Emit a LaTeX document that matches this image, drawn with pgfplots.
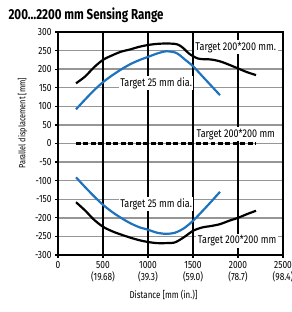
\documentclass[border=0pt]{standalone}
\usepackage{fontspec}
\setmainfont[FakeStretch=0.8]{Fira Sans}
\usepackage{pgfplots}
\pgfplotsset{compat=1.18}
\definecolor{cblue}{RGB}{30,115,190}
\definecolor{gridgray}{RGB}{150,150,150}
\begin{document}
\begin{tikzpicture}
\begin{axis}[
  scale only axis,
  width=225bp, height=223bp,
  xmin=0, xmax=2500, ymin=-300, ymax=300,
  xtick={0,500,1000,1500,2000,2500},
  xticklabels={0,{500\\(19.68)},{1000\\(39.3)},{1500\\(59.0)},{2000\\(78.7)},{2500\\(98.4)}},
  xticklabel style={align=center, font=\fontsize{10.5}{12}\selectfont},
  ytick={-300,-250,...,300},
  yticklabel style={font=\fontsize{10.5}{12}\selectfont},
  /pgf/number format/assume math mode=true,
  /pgf/number format/1000 sep={},
  axis line style={black, line width=1.6pt},
  tick style={black, line width=1.2pt},
  tick align=outside,
  major tick length=3pt,
  xtick pos=bottom, ytick pos=left,
  extra x ticks={500,1000,1500,2000},
  extra x tick labels={},
  extra x tick style={grid=major, major grid style={black, line width=1.5pt}, major tick length=0pt},
  ymajorgrids, major grid style={gridgray, line width=1.5pt},
  xlabel={Distance [mm (in.)]},
  ylabel={Parallel displacement [mm]},
  xlabel style={font=\fontsize{10}{11}\selectfont, yshift=2bp, xshift=-7bp},
  ylabel style={font=\fontsize{9.2}{10}\selectfont, at={(ticklabel cs:0.59)}, yshift=1bp},
  clip=false,
]
% upper black
\addplot[black, line width=2.2pt, smooth] coordinates {
(200,162) (300,180) (400,205) (500,225) (600,237) (700,247) (800,253) (900,260) (1000,265) (1100,268) (1200,269) (1300,268) (1350,264) (1400,255) (1450,243) (1500,235) (1550,229) (1600,227) (1700,226) (1800,221) (1900,212) (2000,202) (2100,192) (2200,184)};
% upper blue
\addplot[cblue, line width=2.2pt, smooth] coordinates {
(200,92) (300,118) (400,143) (500,165) (600,183) (700,199) (800,213) (900,224) (1000,233) (1100,242) (1200,248) (1300,245) (1350,238) (1400,228) (1500,208) (1600,182) (1700,156) (1800,130)};
% dashed
\addplot[black, line width=2.2pt, dash pattern=on 5pt off 2.5pt] coordinates {(200,0) (2200,0)};
% lower black
\addplot[black, line width=2.2pt, smooth] coordinates {
(200,-158) (300,-180) (400,-205) (500,-224) (600,-236) (700,-245) (800,-253) (900,-260) (1000,-265) (1100,-268) (1200,-268) (1300,-266) (1400,-252) (1500,-235) (1600,-226) (1700,-222) (1800,-217) (1900,-208) (2000,-200) (2100,-190) (2200,-181)};
% lower blue
\addplot[cblue, line width=2.2pt, smooth] coordinates {
(200,-91) (300,-117) (400,-142) (500,-165) (600,-184) (700,-200) (800,-214) (900,-225) (1000,-232) (1100,-240) (1200,-243) (1300,-240) (1400,-228) (1500,-208) (1600,-183) (1700,-157) (1800,-130)};
\tikzset{lab/.style={fill=white, inner sep=1.5bp, font=\fontsize{11.3}{12}\selectfont}}
\node[lab] at (axis cs:1090,163) {Target 25 mm dia.};
\node[lab] at (axis cs:1090,-163) {Target 25 mm dia.};
\node[lab] at (axis cs:1975,259) {Target 200*200 mm.};
\node[lab] at (axis cs:1975,25) {Target 200*200 mm};
\node[lab] at (axis cs:1990,-262) {Target 200*200 mm};
\end{axis}
\node[anchor=west, font=\bfseries\fontsize{14.5}{15}\selectfont] at ([shift={(-53bp,17bp)}]current axis.north west) {200…2200 mm Sensing Range};
\pgfresetboundingbox
\path ([shift={(-58bp,-57bp)}]current axis.south west) rectangle ([shift={(8bp,32bp)}]current axis.north east);
\end{tikzpicture}
\end{document}
